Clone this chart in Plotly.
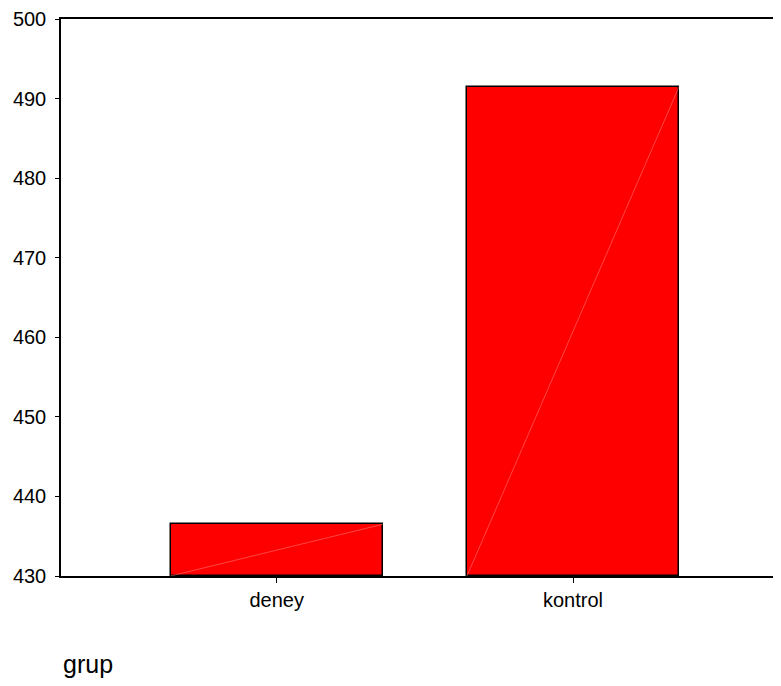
import plotly.graph_objects as go

categories = ["deney", "kontrol"]
values = [436.5, 491.5]
y_ticks = [430, 440, 450, 460, 470, 480, 490, 500]
x_title = "grup"

BAR_W = 0.716
BASE = 430

fig = go.Figure()
fig.add_trace(go.Bar(
    x=list(range(len(categories))), y=[v - BASE for v in values], base=BASE,
    width=BAR_W, marker=dict(color="#ff0000", line=dict(color="#000000", width=1.5)),
    hoverinfo="skip", showlegend=False,
))
# faint diagonal artifacts seen inside bars
for i, v in enumerate(values):
    fig.add_trace(go.Scatter(
        x=[i - BAR_W / 2, i + BAR_W / 2], y=[BASE, v], mode="lines",
        line=dict(color="rgba(255,140,140,0.7)", width=0.7),
        hoverinfo="skip", showlegend=False,
    ))

fig.update_layout(
    width=773, height=670,
    margin=dict(l=53, r=0, t=8, b=102),
    plot_bgcolor="white", paper_bgcolor="white",
    font=dict(family="Liberation Sans, Arial, sans-serif", size=20, color="#000000"),
    bargap=0,
)
fig.update_xaxes(
    range=[-0.728, 1.702], tickmode="array", tickvals=list(range(len(categories))),
    ticktext=categories, showline=True, linecolor="black", linewidth=1.5, mirror=True,
    ticks="outside", ticklen=5, tickcolor="black", showgrid=False, zeroline=False,
)
fig.update_yaxes(
    range=[430, 500], tickmode="array", tickvals=y_ticks,
    showline=True, linecolor="black", linewidth=1.5, ticklabelstandoff=5,
    ticklabeloverflow="allow",
    ticks="outside", ticklen=4, tickcolor="black", showgrid=False, zeroline=False,
)
fig.add_annotation(
    text=x_title, xref="paper", yref="paper", x=0.0, y=-0.13,
    xanchor="left", yanchor="top", showarrow=False,
    font=dict(size=25),
)
fig.write_html("out.html")
